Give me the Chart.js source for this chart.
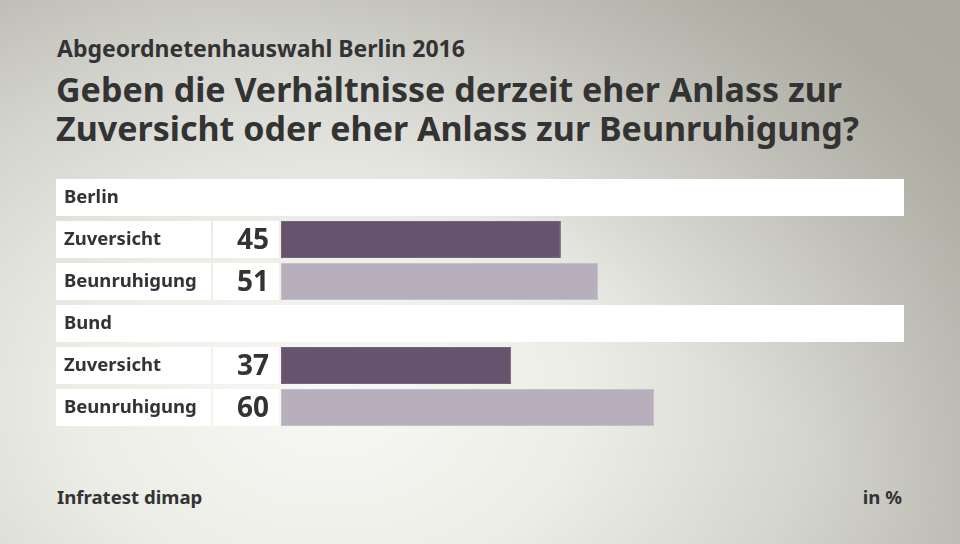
<!DOCTYPE html>
<html>
<head>
<meta charset="utf-8">
<script src="https://cdn.jsdelivr.net/npm/chart.js@4"></script>
<style>
  html, body { margin: 0; padding: 0; }
  body {
    width: 960px; height: 544px; overflow: hidden; position: relative;
    font-family: "Noto Sans", sans-serif; color: #333;
    background:
      linear-gradient(215deg, rgba(160,160,150,0.55) 0%, rgba(160,160,150,0) 45%),
      radial-gradient(ellipse 720px 520px at 330px 400px, #f8f8f4 0%, #ededE8 35%, #d4d4ce 68%, #b4b4ab 100%);
  }
  .txt { position: absolute; font-weight: bold; white-space: nowrap; }
  #sub { left: 57px; top: 32px; font-size: 23px; }
  #title { left: 56px; top: 70px; font-size: 34px; line-height: 39px; }
  #src { left: 57px; top: 484px; font-size: 18.6px; }
  #unit { right: 58px; top: 484px; font-size: 18.6px; }
  #wrap { position: absolute; left: 0; top: 0; width: 960px; height: 544px; }
</style>
</head>
<body>
<div class="txt" id="sub">Abgeordnetenhauswahl Berlin 2016</div>
<div class="txt" id="title">Geben die Verhältnisse derzeit eher Anlass zur<br>Zuversicht oder eher Anlass zur Beunruhigung?</div>
<div class="txt" id="src">Infratest dimap</div>
<div class="txt" id="unit">in %</div>
<div id="wrap"><canvas id="chart" width="960" height="544"></canvas></div>
<script>
const rows = ['Berlin', 'Zuversicht', 'Beunruhigung', 'Bund', 'Zuversicht', 'Beunruhigung'];
const isHeader = [true, false, false, true, false, false];
const values = [null, 45, 51, null, 37, 60];
const barColors = ['#66546f', '#66546f', '#b8afbd', '#66546f', '#66546f', '#b8afbd'];
const borderColors = ['#75647d', '#75647d', '#c6bfca', '#75647d', '#75647d', '#c6bfca'];

const rowHeight = 37;

const cellsPlugin = {
  id: 'cells',
  beforeDatasetsDraw(chart) {
    const ctx = chart.ctx;
    const y = chart.scales.y;
    ctx.save();
    rows.forEach((label, i) => {
      const cy = y.getPixelForValue(i);
      const top = Math.round(cy - rowHeight / 2);
      ctx.fillStyle = '#ffffff';
      ctx.textBaseline = 'middle';
      if (isHeader[i]) {
        ctx.fillRect(56, top, 848, rowHeight);
        ctx.fillStyle = '#333';
        ctx.font = 'bold 18.5px "Noto Sans"';
        ctx.textAlign = 'left';
        ctx.fillText(label, 64, cy);
      } else {
        ctx.fillRect(56, top, 155, rowHeight);
        ctx.fillRect(213, top, 66, rowHeight);
        ctx.fillStyle = '#333';
        ctx.font = 'bold 18.5px "Noto Sans"';
        ctx.textAlign = 'left';
        ctx.fillText(label, 64, cy);
        ctx.font = 'bold 28px "Noto Sans"';
        ctx.textAlign = 'right';
        ctx.fillText(String(values[i]), 269, cy + 2);
      }
    });
    ctx.restore();
  }
};

new Chart(document.getElementById('chart'), {
  type: 'bar',
  data: {
    labels: rows,
    datasets: [{
      data: values,
      backgroundColor: barColors,
      borderColor: borderColors,
      borderWidth: 1,
      borderSkipped: false,
      barPercentage: 0.88,
      categoryPercentage: 1
    }]
  },
  options: {
    indexAxis: 'y',
    responsive: false,
    animation: false,
    layout: { padding: { left: 281, right: 57, top: 176.5, bottom: 115.5 } },
    plugins: { legend: { display: false }, tooltip: { enabled: false } },
    scales: {
      x: { min: 0, max: 100, display: false },
      y: { display: false }
    }
  },
  plugins: [cellsPlugin]
});
</script>
</body>
</html>
